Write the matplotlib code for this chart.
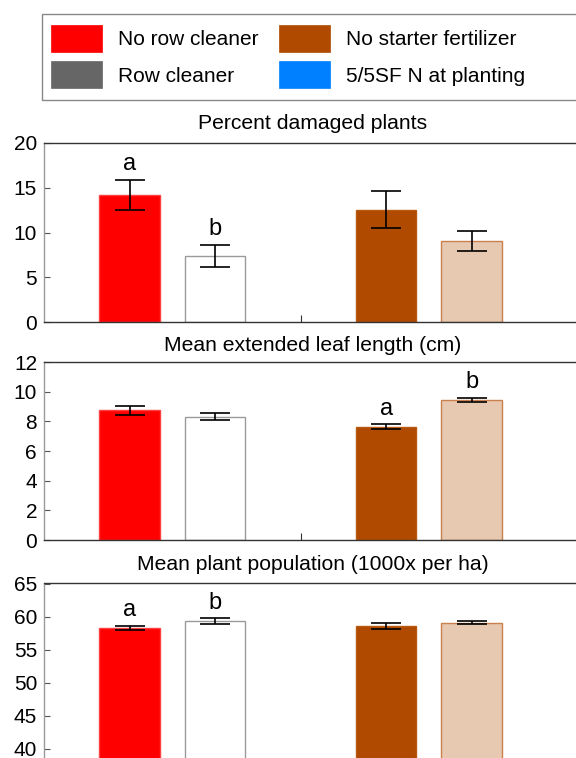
import matplotlib

matplotlib.use("Agg")

import matplotlib.pyplot as plt
from matplotlib.patches import Patch, Rectangle

plt.rcParams["font.family"] = ["Liberation Sans", "DejaVu Sans"]

# =========================
# DATA
# =========================

treatments = [
    "No row cleaner",
    "Row cleaner",
    "No starter fertilizer",
    "5/5SF N at planting",
]

x_pos = [0, 1, 3, 4]

bar_colors = ["#ff0000", "#ffffff", "#b04a00", "#e6c9b0"]
edge_colors = ["#ff4040", "#9a9a9a", "#b85a10", "#cc8050"]
legend_colors = ["#ff0000", "#666666", "#b04a00", "#0080ff"]

damaged_mean = [14.2, 7.35, 12.55, 9.05]
damaged_se = [1.7, 1.25, 2.05, 1.15]
damaged_letters = ["a", "b", "", ""]

leaf_mean = [8.74, 8.3, 7.62, 9.43]
leaf_se = [0.28, 0.23, 0.17, 0.13]
leaf_letters = ["", "", "a", "b"]

pop_mean = [58.3, 59.3, 58.55, 59.05]
pop_se = [0.3, 0.4, 0.45, 0.22]
pop_letters = ["a", "b", "", ""]

panels = [
    ("Percent damaged plants", damaged_mean, damaged_se, damaged_letters,
     (0, 20), [0, 5, 10, 15, 20]),
    ("Mean extended leaf length (cm)", leaf_mean, leaf_se, leaf_letters,
     (0, 12), [0, 2, 4, 6, 8, 10, 12]),
    ("Mean plant population (1000x per ha)", pop_mean, pop_se, pop_letters,
     (35, 65), [40, 45, 50, 55, 60, 65]),
]

# axes boxes in pixels: top, bottom
W, H = 576, 758
boxes = [(143, 322), (362, 540), (583.5, 781.5)]
title_pads = [10, 8, 10]
LEFT, RIGHT = 44, 582

fig = plt.figure(figsize=(W / 100, H / 100), dpi=100)

for (title, mean, se, letters, ylim, yticks), (top, bottom), tpad in zip(
    panels, boxes, title_pads
):

    ax = fig.add_axes([
        LEFT / W,
        1 - bottom / H,
        (RIGHT - LEFT) / W,
        (bottom - top) / H,
    ])

    ax.bar(
        x_pos,
        mean,
        width=0.71,
        color=bar_colors,
        edgecolor=edge_colors,
        linewidth=1.0,
        zorder=2,
    )

    ax.errorbar(
        x_pos,
        mean,
        yerr=se,
        fmt="none",
        ecolor="black",
        elinewidth=1.2,
        capsize=10.5,
        capthick=1.2,
        zorder=3,
    )

    for x, m, s, letter in zip(x_pos, mean, se, letters):
        if letter:
            ax.annotate(
                letter,
                (x, m + s),
                xytext=(0, 7),
                textcoords="offset points",
                ha="center",
                va="baseline",
                fontsize=17,
            )

    ax.set_xlim(-1, 5.29)
    ax.set_ylim(*ylim)
    ax.set_yticks(yticks)
    ax.set_xticks([2])
    ax.set_xticklabels([])

    ax.tick_params(axis="y", direction="in", length=4, width=0.8,
                   labelsize=15, pad=5, color="#555555")
    ax.tick_params(axis="x", direction="in", length=5, width=0.8,
                   color="#333333")

    ax.spines["left"].set_color("#999999")
    for side in ["top", "bottom", "right"]:
        ax.spines[side].set_color("#333333")
    for sp in ax.spines.values():
        sp.set_linewidth(1.0)

    ax.set_title(title, fontsize=15.2, pad=tpad)

# =========================
# LEGEND
# =========================

fig.patches.append(
    Rectangle(
        (42 / W, 1 - 100 / H),
        600 / W,
        86 / H,
        transform=fig.transFigure,
        facecolor="white",
        edgecolor="#888888",
        linewidth=1.0,
        zorder=0,
    )
)

handles = [
    Patch(facecolor=c, edgecolor=c, linewidth=0.5)
    for c in legend_colors
]

for idx, x_anchor in [([0, 1], 51), ([2, 3], 279)]:
    fig.legend(
        [handles[i] for i in idx],
        [treatments[i] for i in idx],
        loc="upper left",
        bbox_to_anchor=(x_anchor / W, 1 - 25 / H),
        frameon=False,
        fontsize=15,
        handlelength=2.45,
        handleheight=1.62,
        handletextpad=0.75,
        labelspacing=0.45,
        borderpad=0,
        borderaxespad=0,
    )

fig.savefig("out.png", dpi=100)
